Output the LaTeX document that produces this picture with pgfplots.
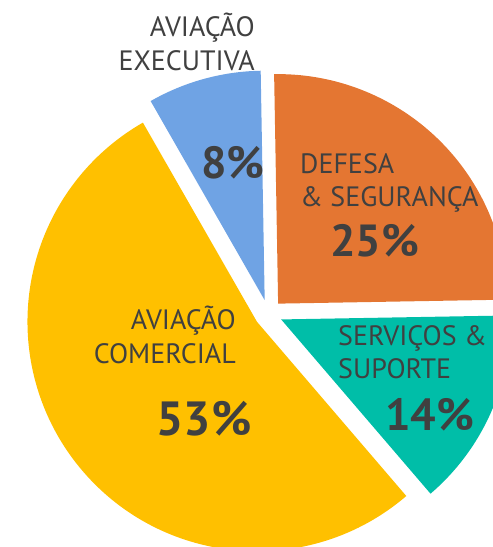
\documentclass[border=0pt]{standalone}
\usepackage{pgfplots}
\usepackage{pgfplotstable}
\pgfplotsset{compat=1.18}
\usepackage{fontspec}
\setmainfont{PT Sans}
\definecolor{cDef}{HTML}{E47632}
\definecolor{cSer}{HTML}{00BEA8}
\definecolor{cCom}{HTML}{FFC000}
\definecolor{cExe}{HTML}{6FA3E4}
\definecolor{txt}{HTML}{404040}
\pgfplotstableread{
v col
25 cDef
14 cSer
53 cCom
8 cExe
}\piedata
\begin{document}
\begin{tikzpicture}
\useasboundingbox (0,0) rectangle (493pt,547pt);
\begin{axis}[x=1pt, y=1pt, xmin=0, xmax=493, ymin=0, ymax=547,
  hide axis, clip=true, at={(0,0)}, anchor=south west]
\def\ox{268.4}\def\oy{233.3}\def\ex{14}\def\R{229.5}\def\rot{1}
\def\cum{0}
\pgfplotsforeachungrouped \i in {0,1,2,3}{
  \pgfplotstablegetelem{\i}{v}\of\piedata \let\v\pgfplotsretval
  \pgfplotstablegetelem{\i}{col}\of\piedata \let\c\pgfplotsretval
  \pgfmathsetmacro\a{90+\rot-3.6*\cum}
  \pgfmathsetmacro\b{\a-3.6*\v}
  \pgfmathsetmacro\m{(\a+\b)/2}
  \pgfmathsetmacro\cx{\ox+\ex*cos(\m)}
  \pgfmathsetmacro\cy{\oy+\ex*sin(\m)}
  \edef\cmd{\noexpand\fill[\c] (axis cs:\cx,\cy) -- ++(\a:\R pt) arc[start angle=\a, end angle=\b, radius=\R pt] -- cycle;}
  \cmd
  \pgfmathsetmacro\cum{\cum+\v}
}
\begin{scope}[every node/.style={text=txt, font=\fontsize{28}{33}\selectfont, inner sep=0pt}]
\node[anchor=base east] at (axis cs:255,510.4) {AVIAÇÃO};
\node[anchor=base east] at (axis cs:255,476.5) {EXECUTIVA};
\node[anchor=base west] at (axis cs:300,373.6) {DEFESA};
\node[anchor=base west] at (axis cs:300,340.4) {\& SEGURANÇA};
\node[anchor=base east] at (axis cs:236,217.3) {AVIAÇÃO};
\node[anchor=base east] at (axis cs:236,183) {COMERCIAL};
\node[anchor=base west] at (axis cs:338,201.6) {SERVIÇOS \&};
\node[anchor=base west] at (axis cs:338,168.4) {SUPORTE};
\node[font=\fontsize{45}{50}\selectfont\bfseries] at (axis cs:233,384) {8\%};
\node[font=\fontsize{45}{50}\selectfont\bfseries] at (axis cs:374.5,306) {25\%};
\node[font=\fontsize{48}{54}\selectfont\bfseries] at (axis cs:204,128) {53\%};
\node[font=\fontsize{45}{50}\selectfont\bfseries] at (axis cs:429.5,132) {14\%};
\end{scope}
\end{axis}
\end{tikzpicture}
\end{document}
